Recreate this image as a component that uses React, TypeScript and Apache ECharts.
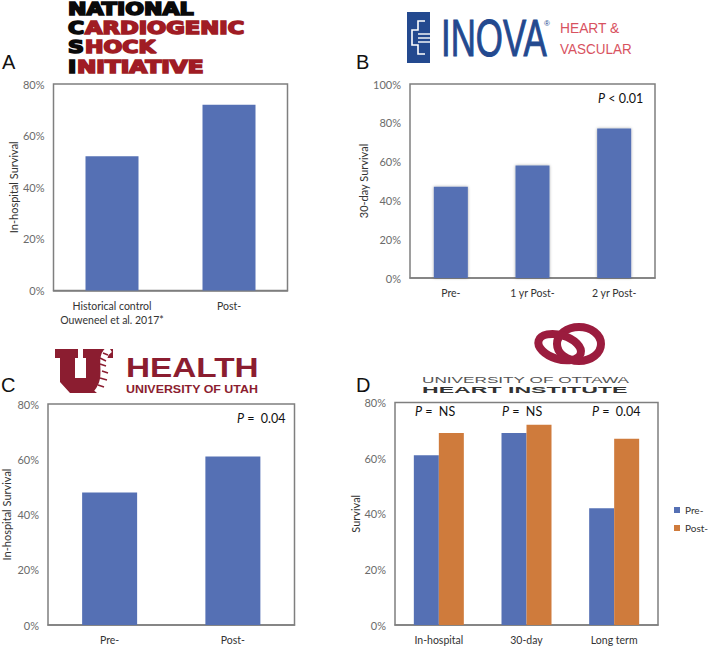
import React, { useEffect, useRef } from "react";
import * as echarts from "echarts";

const catA = ["Historical control\nOuweneel et al. 2017*", "Post-"];
const valA = [52, 72];
const catB = ["Pre-", "1 yr Post-", "2 yr Post-"];
const valB = [47, 58, 77];
const catC = ["Pre-", "Post-"];
const valC = [48, 61];
const catD = ["In-hospital", "30-day", "Long term"];
const valDPre = [61, 69, 42];
const valDPost = [69, 72, 67];

const BLUE = "#5570B4";
const ORANGE = "#CF7B3C";
const FONT = "Lato";

const frames = [
  { left: 53.5, right: 287.5, top: 84, bottom: 290.5 },
  { left: 410, right: 655, top: 84, bottom: 278 },
  { left: 45.5, right: 294.5, top: 404, bottom: 626 },
  { left: 395, right: 658, top: 402.5, bottom: 625 },
];
const W = 709;
const H = 647;

function grid(f: (typeof frames)[0]) {
  return {
    left: f.left,
    top: f.top,
    width: f.right - f.left,
    height: f.bottom - f.top,
    show: true,
    borderColor: "#7f7f7f",
    borderWidth: 1.5,
    backgroundColor: "#fff",
  };
}
function xAxis(i: number, data: string[]) {
  return {
    type: "category",
    gridIndex: i,
    data,
    axisLine: { show: true, lineStyle: { color: "#7f7f7f", width: 1.5 } },
    axisTick: { show: false },
    axisLabel: { color: "#333", fontFamily: FONT, fontSize: 10.5, margin: 8, lineHeight: 14, interval: 0 },
  };
}
function yAxis(i: number, name: string, max: number, gap: number) {
  return {
    type: "value",
    gridIndex: i,
    min: 0,
    max,
    interval: 20,
    name,
    nameLocation: "middle",
    nameGap: gap,
    nameTextStyle: { color: "#333", fontFamily: FONT, fontSize: 11 },
    axisLine: { show: false },
    axisTick: { show: false },
    splitLine: { show: false },
    axisLabel: { color: "#6b6b6b", fontFamily: FONT, fontSize: 11, margin: 9, formatter: "{value}%" },
  };
}
function pText(x: number, y: number, rest: string) {
  return {
    type: "text",
    x,
    y,
    style: {
      text: `{i|P} ${rest}`,
      rich: {
        i: { fontFamily: FONT, fontStyle: "italic", fontSize: 12.5, fill: "#111" },
      },
      fontFamily: FONT,
      fontSize: 12.5,
      fill: "#111",
      verticalAlign: "middle",
    },
  };
}
function letter(x: number, y: number, t: string) {
  return {
    type: "text",
    x,
    y,
    style: { text: t, fontFamily: "Liberation Sans", fontSize: 20, fill: "#111", verticalAlign: "middle" },
  };
}
function heavy(x: number, y: number, t: string, fill: string, scaleX = 1.3) {
  return {
    type: "text",
    x,
    y,
    scaleX,
    style: {
      text: t,
      fontFamily: "DejaVu Sans",
      fontWeight: "bold",
      fontSize: 17,
      fill,
      stroke: fill,
      lineWidth: 1.6,
      verticalAlign: "middle",
    },
  };
}
function logoText(
  x: number,
  y: number,
  t: string,
  size: number,
  fill: string,
  scaleX: number,
  extra: Record<string, unknown> = {}
) {
  return {
    type: "text",
    x,
    y,
    scaleX,
    style: { text: t, fontFamily: "Liberation Sans", fontSize: size, fill, verticalAlign: "middle", ...extra },
  };
}
const RED = "#a01c24";
const CRIM = "#8b1d30";
const NAVY = "#23498f";
const PINK = "#d8525f";
const RING = "#9b1c3e";

function rung(x1: number, y1: number, x2: number, y2: number) {
  return { type: "line", shape: { x1, y1, x2, y2 }, style: { stroke: CRIM, lineWidth: 1.5 } };
}

const logos: any[] = [
  // National Cardiogenic Shock Initiative
  heavy(68, 9, "NATIONAL", "#0a0a0a"),
  heavy(68, 28, "C", "#0a0a0a"),
  heavy(85, 28, "ARDIOGENIC", RED, 1.33),
  heavy(68, 47, "S", "#0a0a0a"),
  heavy(85, 47, "HOCK", RED),
  heavy(68, 67, "I", "#0a0a0a"),
  heavy(77, 67, "NITIATIVE", RED, 1.36),
  // Inova
  { type: "rect", shape: { x: 407, y: 12, width: 23, height: 51 }, style: { fill: NAVY } },
  {
    type: "polyline",
    shape: {
      points: [
        [425, 21], [418, 21], [418, 30], [412, 30], [412, 45], [418, 45], [418, 54], [425, 54],
      ],
    },
    style: { fill: "none", stroke: "#fff", lineWidth: 1.6 },
  },
  { type: "line", shape: { x1: 418, y1: 34, x2: 430, y2: 34 }, style: { stroke: "#fff", lineWidth: 1.4 } },
  { type: "line", shape: { x1: 418, y1: 38, x2: 430, y2: 38 }, style: { stroke: "#fff", lineWidth: 1.4 } },
  { type: "line", shape: { x1: 418, y1: 42, x2: 430, y2: 42 }, style: { stroke: "#fff", lineWidth: 1.4 } },
  logoText(441, 38, "INOVA", 52, NAVY, 0.67, { stroke: NAVY, lineWidth: 1 }),
  logoText(544, 23, "®", 8, NAVY, 1),
  logoText(560, 28, "HEART &", 15, PINK, 0.92),
  logoText(560, 49, "VASCULAR", 15, PINK, 0.9),
  // University of Utah Health
  {
    type: "polygon",
    shape: {
      points: [
        [55, 349], [78, 349], [78, 358], [75, 358], [75, 378], [86, 378], [86, 358], [83, 358], [83, 349],
        [113, 349], [113, 358], [107, 358], [100, 393], [70, 393], [60, 382], [60, 358], [55, 358],
      ],
    },
    style: { fill: CRIM },
  },
  {
    type: "bezierCurve",
    shape: { x1: 110, y1: 349, cpx1: 96, cpy1: 358, cpx2: 112, cpy2: 374, x2: 97, y2: 393 },
    style: { fill: "none", stroke: "#fff", lineWidth: 7 },
  },
  rung(103, 353, 108, 355),
  rung(100, 358, 106, 361),
  rung(100, 364, 106, 366),
  rung(102, 371, 108, 373),
  rung(100, 378, 107, 380),
  rung(98, 385, 104, 387),
  logoText(126, 367, "HEALTH", 28, CRIM, 1.19, { fontWeight: "bold" }),
  logoText(126, 389, "UNIVERSITY OF UTAH", 11.5, CRIM, 1.08, { fontWeight: "bold" }),
  // University of Ottawa Heart Institute
  {
    type: "ellipse",
    shape: { cx: 579, cy: 344, rx: 22, ry: 17 },
    style: { fill: "none", stroke: RING, lineWidth: 8 },
  },
  {
    type: "ellipse",
    shape: { cx: 560, cy: 347, rx: 22, ry: 12 },
    rotation: -0.3,
    originX: 560,
    originY: 347,
    style: { fill: "none", stroke: RING, lineWidth: 8 },
  },
  logoText(422, 379.5, "UNIVERSITY OF OTTAWA", 9.5, "#555", 1.81),
  logoText(422, 390, "HEART INSTITUTE", 8.5, "#333", 2.72, { fontWeight: "bold" }),
];

const texts: any[] = [
  letter(2, 62, "A"),
  letter(356, 62, "B"),
  letter(1, 385, "C"),
  letter(356, 385, "D"),
  pText(598, 98, "< 0.01"),
  pText(237, 418, "=  0.04"),
  pText(415, 411, "=  NS"),
  pText(502, 411, "=  NS"),
  pText(592, 411, "=  0.04"),
];

export default function App() {
  const ref = useRef<HTMLDivElement>(null);
  useEffect(() => {
    document.body.style.margin = "0";
    const chart = echarts.init(ref.current!, undefined, { renderer: "svg" });
    const barShadow = { shadowColor: "rgba(0,0,0,0.35)", shadowBlur: 3 };
    chart.setOption({
      animation: false,
      backgroundColor: "#fff",
      grid: frames.map(grid),
      xAxis: [xAxis(0, catA), xAxis(1, catB), xAxis(2, catC), xAxis(3, catD)],
      yAxis: [
        yAxis(0, "In-hospital Survival", 80, 33),
        yAxis(1, "30-day Survival", 100, 34),
        yAxis(2, "In-hospital Survival", 80, 36),
        yAxis(3, "Survival", 80, 34),
      ],
      legend: {
        data: ["Pre-", "Post-"],
        orient: "vertical",
        left: 674,
        top: 505,
        padding: 0,
        itemWidth: 6,
        itemHeight: 6,
        itemGap: 8,
        icon: "rect",
        textStyle: { color: "#333", fontFamily: FONT, fontSize: 10 },
      },
      series: [
        { type: "bar", name: "A", xAxisIndex: 0, yAxisIndex: 0, data: valA, barWidth: 53, itemStyle: { color: BLUE } },
        { type: "bar", name: "B", xAxisIndex: 1, yAxisIndex: 1, data: valB, barWidth: 34, itemStyle: { color: BLUE, ...barShadow } },
        { type: "bar", name: "C", xAxisIndex: 2, yAxisIndex: 2, data: valC, barWidth: 55, itemStyle: { color: BLUE } },
        { type: "bar", name: "Pre-", xAxisIndex: 3, yAxisIndex: 3, data: valDPre, barWidth: 25, barGap: 0, itemStyle: { color: BLUE } },
        { type: "bar", name: "Post-", xAxisIndex: 3, yAxisIndex: 3, data: valDPost, barWidth: 25, barGap: 0, itemStyle: { color: ORANGE } },
      ],
      graphic: { elements: [...logos, ...texts] },
    });
    return () => chart.dispose();
  }, []);
  return <div ref={ref} style={{ position: "absolute", left: 0, top: 0, width: W, height: H }} />;
}
